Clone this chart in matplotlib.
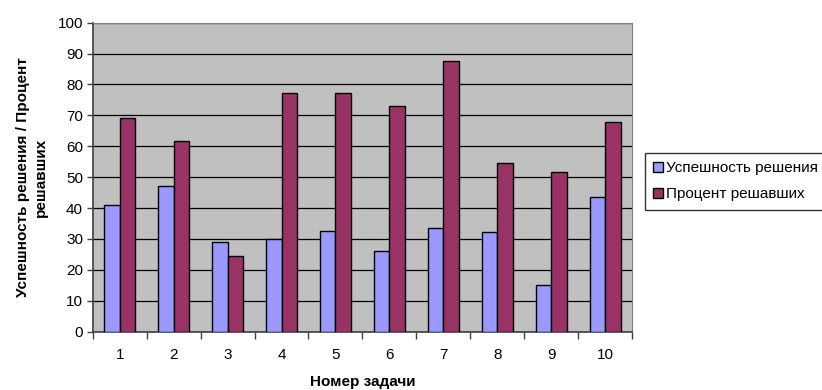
import numpy as np
import matplotlib
matplotlib.use("Agg")
import matplotlib.pyplot as plt

plt.rcParams['font.family'] = ['Liberation Sans', 'DejaVu Sans']

tasks = ['1', '2', '3', '4', '5', '6', '7', '8', '9', '10']
success = [40.9, 47.2, 28.9, 29.9, 32.6, 26.1, 33.7, 32.2, 15.0, 43.7]
percent_solved = [69.1, 61.8, 24.5, 77.3, 77.3, 72.9, 87.6, 54.7, 51.6, 67.9]

fig = plt.figure(figsize=(8.22, 3.9), dpi=100)
ax = fig.add_axes([0.1128, 0.1495, 0.6562, 0.7923])

x = np.arange(len(tasks))
w = 0.29
ax.bar(x - w / 2, success, w, color='#9999FF', edgecolor='black', linewidth=1.0,
       label='Успешность решения', zorder=3)
ax.bar(x + w / 2, percent_solved, w, color='#993366', edgecolor='black', linewidth=1.0,
       label='Процент решавших', zorder=3)

ax.set_facecolor('#C0C0C0')
ax.set_xlim(-0.5, len(tasks) - 0.5)
ax.set_ylim(0, 100)
ax.set_yticks(range(0, 101, 10))
ax.yaxis.grid(True, color='black', linewidth=0.9, zorder=1)
ax.set_axisbelow(True)

# category labels in the middle, tick marks on the boundaries
ax.set_xticks(x)
ax.set_xticklabels(tasks)
ax.set_xticks(np.arange(-0.5, len(tasks)), minor=True)
ax.tick_params(axis='x', which='major', length=0, pad=12, labelsize=11)
ax.tick_params(axis='x', which='minor', length=5, width=1, color='#404040')
ax.tick_params(axis='y', length=4, width=1, color='#404040', labelsize=11, pad=3)

for side in ['top', 'right']:
    ax.spines[side].set_color('#808080')
for side in ['left', 'bottom']:
    ax.spines[side].set_color('#404040')
    ax.spines[side].set_linewidth(1.2)

ax.set_xlabel('Номер задачи', fontsize=11, fontweight='bold', labelpad=9)
ax.set_ylabel('Успешность решения / Процент\nрешавших', fontsize=11,
              fontweight='bold', labelpad=7, linespacing=1.3)

leg = fig.legend(loc='upper left', bbox_to_anchor=(645 / 822, 1 - 153 / 390),
                 fontsize=11, frameon=True, fancybox=False, edgecolor='black',
                 handlelength=0.6, handleheight=0.6, handletextpad=0.2,
                 borderpad=0.55, labelspacing=0.78, borderaxespad=0)
leg.get_frame().set_linewidth(1.0)

fig.savefig('out.png', dpi=100)
